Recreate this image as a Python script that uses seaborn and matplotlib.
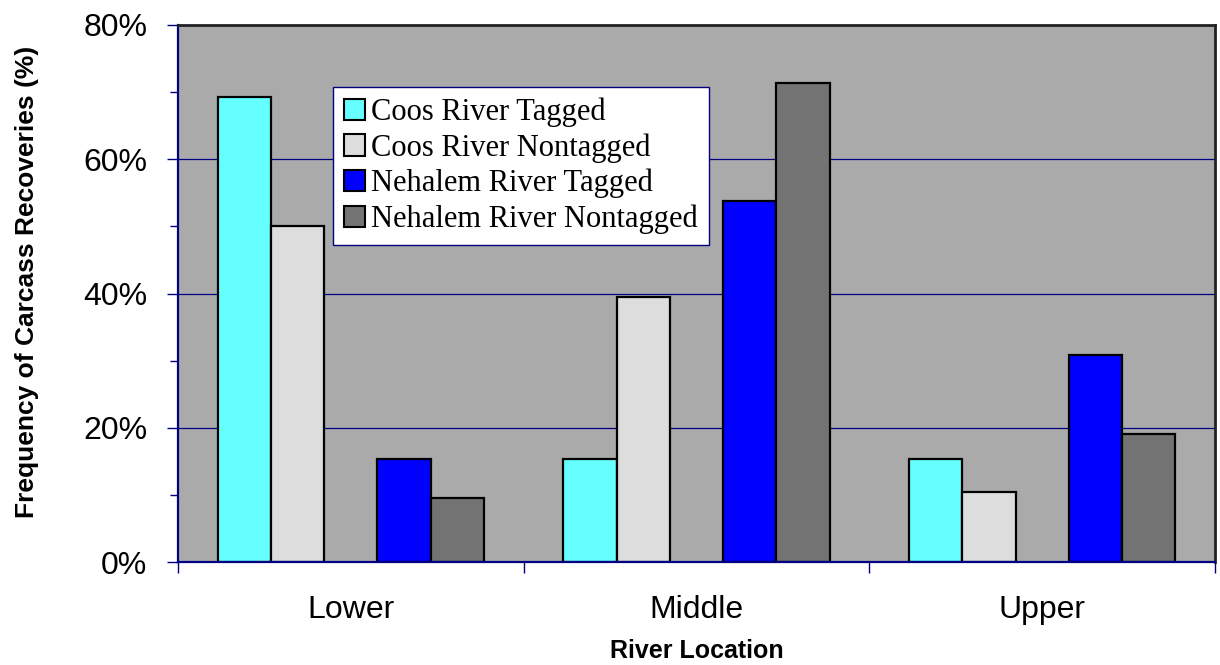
import pandas as pd
import matplotlib.pyplot as plt
import seaborn as sns
from matplotlib.patches import Patch
from matplotlib.ticker import FixedLocator, MultipleLocator, PercentFormatter

# 数据 (百分比)
locations = ['Lower', 'Middle', 'Upper']
coos_tagged = [69.2, 15.4, 15.4]
coos_nontagged = [50.0, 39.5, 10.5]
nehalem_tagged = [15.4, 53.8, 30.8]
nehalem_nontagged = [9.5, 71.4, 19.0]

series_names = ['Coos River Tagged', 'Coos River Nontagged',
                'Nehalem River Tagged', 'Nehalem River Nontagged']
series_values = [coos_tagged, coos_nontagged, nehalem_tagged, nehalem_nontagged]
colors = ['#66FFFF', '#DDDDDD', '#0000FF', '#737373']

# 长格式表
rows = []
for name, vals in zip(series_names, series_values):
    for loc, v in zip(locations, vals):
        rows.append({'Location': loc, 'Series': name, 'Value': v})
df = pd.DataFrame(rows)

# 中间留一个空位 (原图两组之间有空隙)
blank = ' '
hue_order = series_names[:2] + [blank] + series_names[2:]
palette = dict(zip(series_names, colors))
palette[blank] = 'white'

sns.set_style('white')
plt.rcParams['font.family'] = ['Liberation Sans', 'DejaVu Sans']
plt.rcParams['text.color'] = 'black'
plt.rcParams['xtick.labelcolor'] = 'black'
plt.rcParams['ytick.labelcolor'] = 'black'

fig = plt.figure(figsize=(12.2, 6.65), dpi=100)
ax = fig.add_axes([178 / 1220, 1 - 562 / 665, 1037 / 1220, 537 / 665])
ax.set_facecolor('#AAAAAA')

sns.barplot(data=df, x='Location', y='Value', hue='Series', order=locations,
            hue_order=hue_order, palette=palette, width=0.77, saturation=1,
            edgecolor='black', linewidth=1.6, legend=False, ax=ax)

ax.set_xlim(-0.5, 2.5)
ax.set_ylim(0, 80)

# 网格线
ax.yaxis.set_major_locator(MultipleLocator(20))
ax.yaxis.set_minor_locator(MultipleLocator(10))
ax.yaxis.set_major_formatter(PercentFormatter(decimals=0))
ax.grid(axis='y', which='major', color='#000080', linewidth=0.9)
ax.set_axisbelow(True)

# 边框
for side in ['left', 'bottom']:
    ax.spines[side].set_color('#000080')
    ax.spines[side].set_linewidth(1.6)
for side in ['top', 'right']:
    ax.spines[side].set_color('#222222')
    ax.spines[side].set_linewidth(2)

ax.tick_params(axis='y', which='major', direction='out', length=8, width=1,
               color='#000080', labelcolor='black', labelsize=23, pad=14, left=True)
ax.tick_params(axis='y', which='minor', direction='out', length=6, width=1,
               color='#000080', left=True)

# x 轴刻度在组边界
ax.xaxis.set_minor_locator(FixedLocator([-0.5, 0.5, 1.5, 2.5]))
ax.tick_params(axis='x', which='major', length=0, labelcolor='black',
               labelsize=23, pad=24)
ax.tick_params(axis='x', which='minor', direction='out', length=8, width=1,
               color='#000080', bottom=True)

ax.set_xlabel('')
ax.set_ylabel('')
fig.text(697 / 1220, 1 - 651 / 665, 'River Location', color='black',
         ha='center', va='center', fontsize=18, fontweight='bold')
fig.text(27 / 1220, 1 - 282 / 665, 'Frequency of Carcass Recoveries (%)',
         color='black', rotation=90, ha='center', va='center',
         fontsize=19, fontweight='bold')

# 图例
handles = [Patch(facecolor=c, edgecolor='black', linewidth=1.5) for c in colors]
leg = ax.legend(handles, series_names, loc='upper left',
                bbox_to_anchor=(0.1495, 0.8845), borderaxespad=0,
                prop={'family': 'Liberation Serif', 'size': 22},
                handlelength=0.7, handleheight=0.7, handletextpad=0.2,
                labelspacing=0.2, borderpad=0.35, fancybox=False,
                framealpha=1, facecolor='white', edgecolor='#000080',
                labelcolor='black')
leg.get_frame().set_linewidth(1)

plt.savefig('out.png', dpi=100)
